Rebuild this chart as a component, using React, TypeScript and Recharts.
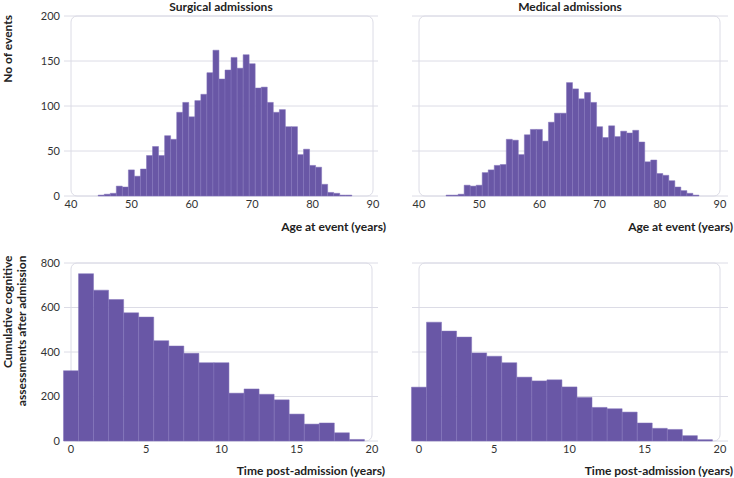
import React from 'react';
import { BarChart, Bar, XAxis, YAxis, CartesianGrid, ReferenceArea } from 'recharts';

// Age at event (years), one-year bins centred on whole years
const ages = [45, 46, 47, 48, 49, 50, 51, 52, 53, 54, 55, 56, 57, 58, 59, 60, 61, 62, 63, 64, 65, 66, 67, 68, 69, 70, 71, 72, 73, 74, 75, 76, 77, 78, 79, 80, 81, 82, 83, 84, 85, 86];
const surgicalEvents = [1, 2, 3, 11, 10, 29, 22, 30, 45, 55, 45, 67, 63, 93, 104, 88, 106, 113, 137, 162, 130, 140, 154, 142, 157, 147, 120, 121, 104, 93, 96, 77, 77, 46, 52, 34, 32, 13, 4, 3, 1, 1];
const medicalEvents = [1, 1, 2, 12, 11, 12, 26, 29, 34, 35, 63, 62, 46, 68, 74, 74, 61, 82, 92, 92, 126, 119, 108, 115, 104, 77, 65, 78, 66, 72, 70, 73, 60, 38, 40, 25, 23, 17, 10, 6, 3, 1];

// Time post-admission (years)
const years = [0, 1, 2, 3, 4, 5, 6, 7, 8, 9, 10, 11, 12, 13, 14, 15, 16, 17, 18, 19];
const surgicalAssessments = [316, 752, 678, 636, 576, 557, 451, 427, 394, 352, 352, 215, 234, 210, 185, 121, 76, 81, 37, 7];
const medicalAssessments = [242, 534, 494, 467, 396, 381, 352, 287, 270, 275, 243, 196, 151, 145, 130, 81, 57, 52, 24, 6];

const ageTicks = [40, 50, 60, 70, 80, 90];
const eventTicks = [0, 50, 100, 150, 200];
const yearTicks = [0, 5, 10, 15, 20];
const assessTicks = [0, 200, 400, 600, 800];

const panelTitles = ['Surgical admissions', 'Medical admissions'];
const ageAxisTitle = 'Age at event (years)';
const timeAxisTitle = 'Time post-admission (years)';
const eventsAxisTitle = 'No of events';
const assessAxisTitle = ['Cumulative cognitive', 'assessments after admission'];

const FONT = 'Lato, "Open Sans", sans-serif';
const BAR = '#6957a6';
const SEAM = '#8272bb';
const GRID = '#dcdce6';
const TICK = { fill: '#333', fontSize: 11, fontFamily: FONT };

const ageData = (vals: number[]) => ages.map((a, i) => ({ x: a, v: vals[i] }));
const yearData = (vals: number[]) => years.map((a, i) => ({ x: a, v: vals[i] }));

const boxShape = (p: any) => (
  <rect x={p.x} y={p.y} width={p.width} height={p.height} rx={6} ry={6} fill="none" stroke={GRID} strokeWidth={1} />
);

type PanelProps = {
  data: { x: number; v: number }[];
  width: number;
  height: number;
  margin: { top: number; right: number; left: number; bottom: number };
  xDomain: [number, number];
  xTicks: number[];
  xPad: { left: number; right: number };
  xHeight: number;
  yDomain: [number, number];
  yTicks: number[];
  showY: boolean;
};

function Panel(props: PanelProps) {
  const { data, width, height, margin, xDomain, xTicks, xPad, xHeight, yDomain, yTicks, showY } = props;
  return (
    <BarChart width={width} height={height} data={data} margin={margin} barCategoryGap={0} barGap={0}>
      <CartesianGrid horizontal vertical={false} stroke={GRID} />
      <ReferenceArea shape={boxShape} ifOverflow="visible" />
      <XAxis
        dataKey="x"
        type="number"
        domain={xDomain}
        ticks={xTicks}
        padding={xPad}
        height={xHeight}
        axisLine={false}
        tickLine={false}
        tickSize={0}
        tickMargin={4}
        tick={TICK}
        interval={0}
      />
      <YAxis
        domain={yDomain}
        ticks={yTicks}
        width={64}
        hide={!showY}
        axisLine={false}
        tickLine={false}
        tickSize={0}
        tickMargin={4}
        tick={TICK}
        interval={0}
      />
      <Bar dataKey="v" fill={BAR} stroke={SEAM} strokeWidth={0.5} isAnimationActive={false} />
    </BarChart>
  );
}

export default function App() {
  const abs = (left: number, top: number): React.CSSProperties => ({ position: 'absolute', left, top });
  const titleStyle = { fontFamily: FONT, fontWeight: 700, fill: '#222' } as const;
  return (
    <div style={{ position: 'absolute', left: 0, top: 0, width: 734, height: 478, background: '#fff', overflow: 'hidden' }}>
      <div style={abs(0, 0)}>
        <Panel data={ageData(surgicalEvents)} width={400} height={240} margin={{ top: 16, right: 22, left: 0, bottom: 0 }}
          xDomain={[40, 90]} xTicks={ageTicks} xPad={{ left: 7, right: 5 }} xHeight={44}
          yDomain={[0, 200]} yTicks={eventTicks} showY />
      </div>
      <div style={abs(400, 0)}>
        <Panel data={ageData(medicalEvents)} width={334} height={240} margin={{ top: 16, right: 6, left: 12, bottom: 0 }}
          xDomain={[40, 90]} xTicks={ageTicks} xPad={{ left: 7, right: 8 }} xHeight={44}
          yDomain={[0, 200]} yTicks={eventTicks} showY={false} />
      </div>
      <div style={abs(0, 240)}>
        <Panel data={yearData(surgicalAssessments)} width={400} height={238} margin={{ top: 23, right: 22, left: 0, bottom: 0 }}
          xDomain={[0, 20]} xTicks={yearTicks} xPad={{ left: 7, right: 6 }} xHeight={37}
          yDomain={[0, 800]} yTicks={assessTicks} showY />
      </div>
      <div style={abs(400, 240)}>
        <Panel data={yearData(medicalAssessments)} width={334} height={238} margin={{ top: 23, right: 6, left: 12, bottom: 0 }}
          xDomain={[0, 20]} xTicks={yearTicks} xPad={{ left: 7, right: 8 }} xHeight={37}
          yDomain={[0, 800]} yTicks={assessTicks} showY={false} />
      </div>
      <svg width={734} height={478} style={{ position: 'absolute', left: 0, top: 0, pointerEvents: 'none' }}>
        <text x={221} y={10.5} textAnchor="middle" fontSize={12} style={titleStyle}>{panelTitles[0]}</text>
        <text x={570} y={10.5} textAnchor="middle" fontSize={12} style={titleStyle}>{panelTitles[1]}</text>
        <text x={386} y={231} textAnchor="end" fontSize={12} style={titleStyle}>{ageAxisTitle}</text>
        <text x={733} y={231} textAnchor="end" fontSize={12} style={titleStyle}>{ageAxisTitle}</text>
        <text x={385} y={475} textAnchor="end" fontSize={12} style={titleStyle}>{timeAxisTitle}</text>
        <text x={733} y={475} textAnchor="end" fontSize={12} style={titleStyle}>{timeAxisTitle}</text>
        <text x={12} y={15} textAnchor="end" fontSize={12} transform="rotate(-90 12 15)" style={titleStyle}>{eventsAxisTitle}</text>
        <text x={12} y={255.5} textAnchor="end" fontSize={12} transform="rotate(-90 12 255.5)" style={titleStyle}>{assessAxisTitle[0]}</text>
        <text x={25.5} y={255.5} textAnchor="end" fontSize={12} transform="rotate(-90 25.5 255.5)" style={titleStyle}>{assessAxisTitle[1]}</text>
      </svg>
    </div>
  );
}
